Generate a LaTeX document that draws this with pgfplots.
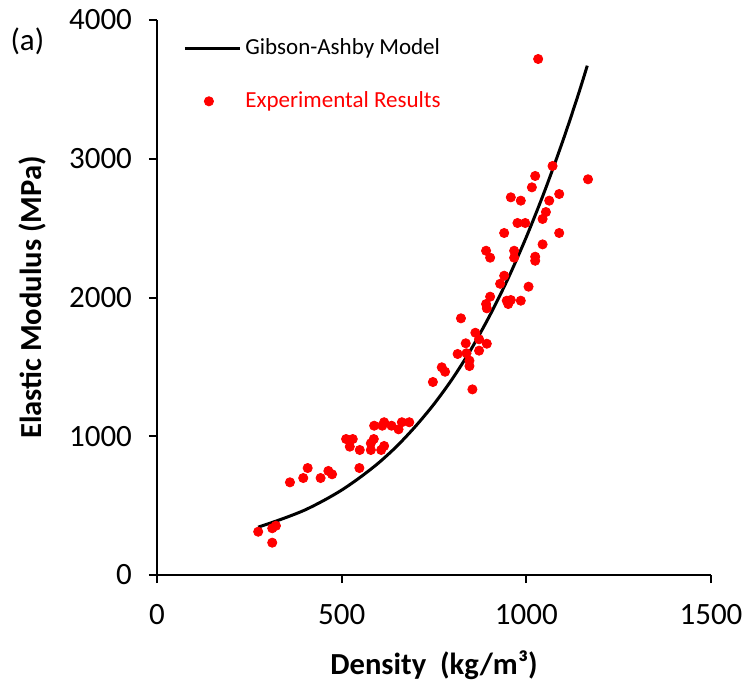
\documentclass[border=0pt]{standalone}
\usepackage{pgfplots}
\pgfplotsset{compat=1.18}
\usepackage{fontspec}
\setmainfont{Carlito}
\definecolor{expred}{RGB}{255,0,0}
\pgfplotsset{
  galine/.style={legend image code/.code={\draw[##1] (0pt,0pt) -- (27.5pt,0pt);}},
  exppt/.style={legend image code/.code={\draw[##1] plot coordinates {(12pt,0pt)};}},
}
\begin{document}
\begin{tikzpicture}
\useasboundingbox (-78.5pt,-59pt) rectangle (294pt,287.5pt);
\begin{axis}[
  scale only axis,
  width=277pt, height=277.5pt,
  xmin=0, xmax=1500, ymin=0, ymax=4000,
  xtick={0,500,1000,1500}, ytick={0,1000,2000,3000,4000},
  axis x line=bottom, axis y line=left,
  axis line style={-, line width=1pt, black},
  tick style={line width=1pt, black},
  tick align=outside, major tick length=4pt,
  minor tick num=0,
  /pgf/number format/assume math mode=true,
  /pgf/number format/1000 sep={},
  ticklabel style={font=\fontsize{15.5}{18}\selectfont},
  xticklabel style={yshift=-7pt},
  yticklabel style={xshift=-5pt},
  xlabel={Density\ \ (kg/m³)},
  ylabel={Elastic Modulus (MPa)},
  label style={font=\fontsize{15.3}{18}\selectfont\bfseries},
  xlabel style={at={(axis description cs:0.5,-0.162)}, anchor=center},
  ylabel style={at={(axis description cs:-0.224,0.5)}, anchor=center},
  clip=false,
  legend style={at={(rel axis cs:0.047,0.974)}, anchor=north west, draw=none, fill=none,
    font=\fontsize{11.5}{14}\selectfont, row sep=13pt, inner sep=0pt,
    /tikz/every even column/.append style={column sep=6pt}},
  legend cell align=left,
]
\addlegendimage{black, line width=1.5pt, galine}
\addlegendentry{Gibson-Ashby Model}
\addlegendimage{only marks, mark=*, expred, mark size=2.3pt, exppt}
\addlegendentry{\textcolor{expred}{Experimental Results}}

\addplot[only marks, mark=*, mark size=2.3pt, color=expred, forget plot] table {
x y
274 312
312 233
312 337
322 355
360 668
396 699
408 771
443 699
464 750
474 726
512 980
530 980
522 925
549 901
548 771
579 901
579 949
587 980
588 1076
607 901
615 930
610 1076
615 1101
635 1076
654 1050
663 1101
683 1101
747 1391
771 1497
780 1465
814 1593
823 1850
836 1670
838 1598
846 1545
846 1506
854 1338
862 1746
872 1699
872 1617
891 1953
893 1922
893 1667
902 2006
891 2337
902 2287
929 2099
940 2157
940 2465
947 1977
951 1953
958 1982
958 2722
967 2337
967 2287
976 2537
985 1977
985 2698
997 2537
1006 2078
1015 2794
1024 2876
1024 2294
1024 2265
1032 3719
1044 2566
1044 2383
1053 2616
1062 2698
1071 2948
1089 2746
1089 2465
1167 2852
};

\addplot[black, line width=1.5pt, smooth, forget plot] table {
x y
274 345
300 368
350 415
400 468
450 535
500 612
550 704
600 808
650 930
700 1072
750 1232
800 1415
850 1625
900 1865
950 2134
1000 2436
1050 2770
1100 3138
1140 3457
1165 3671
};

\node[font=\fontsize{15.5}{18}\selectfont] at (rel axis cs:-0.234,0.962) {(a)};
\end{axis}
\end{tikzpicture}
\end{document}
